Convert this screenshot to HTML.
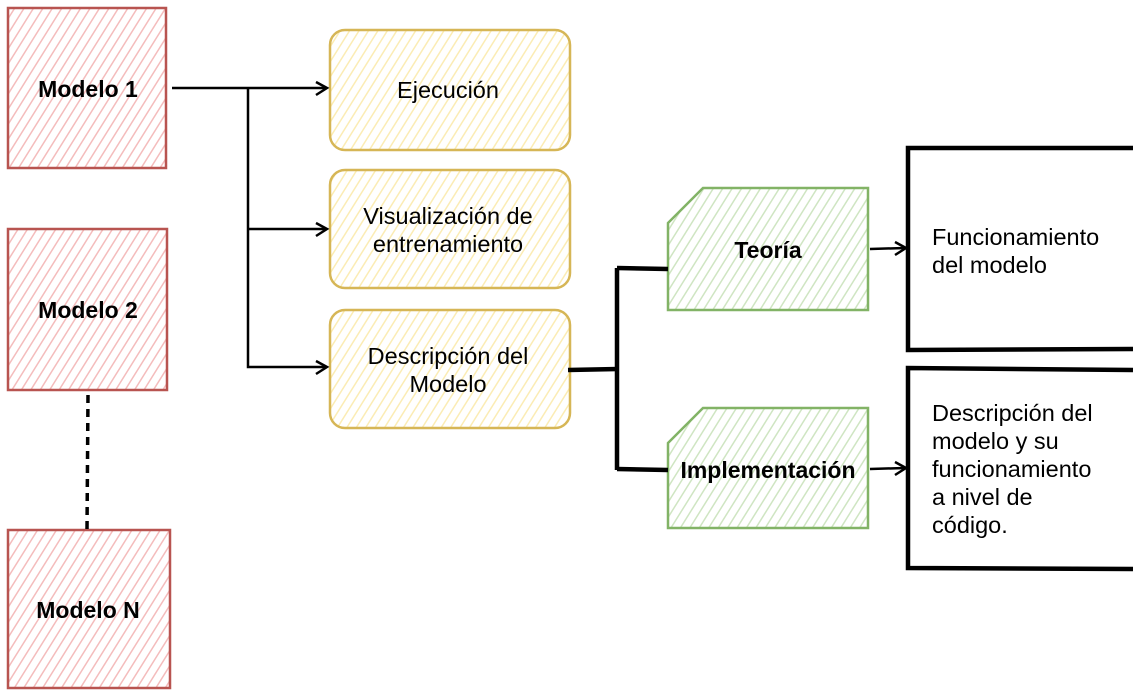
<!DOCTYPE html>
<html><head><meta charset="utf-8"><style>
html,body{margin:0;padding:0;background:#fff;}
svg{display:block;}
text{font-family:"Liberation Sans",Arial,sans-serif;font-size:23.5px;fill:#000;}
.b{font-weight:bold;font-size:23px;}
</style></head><body>
<svg width="1140" height="698" viewBox="0 0 1140 698" xmlns="http://www.w3.org/2000/svg">
<defs>
<pattern id="hr" width="8" height="8" patternUnits="userSpaceOnUse" patternTransform="rotate(32)">
<rect width="8" height="8" fill="#fff"/><line x1="0" y1="0" x2="0" y2="8" stroke="#f4bcbc" stroke-width="3"/></pattern>
<pattern id="hy" width="8" height="8" patternUnits="userSpaceOnUse" patternTransform="rotate(32)">
<rect width="8" height="8" fill="#fff"/><line x1="0" y1="0" x2="0" y2="8" stroke="#fbecb4" stroke-width="3"/></pattern>
<pattern id="hg" width="8" height="8" patternUnits="userSpaceOnUse" patternTransform="rotate(32)">
<rect width="8" height="8" fill="#fff"/><line x1="0" y1="0" x2="0" y2="8" stroke="#cfe5c2" stroke-width="3"/></pattern>
</defs>

<rect x="8" y="8" width="158" height="160" fill="url(#hr)" stroke="#b85450" stroke-width="2.5"/>
<rect x="8" y="229" width="159" height="161" fill="url(#hr)" stroke="#b85450" stroke-width="2.5"/>
<rect x="8" y="530" width="162" height="158" fill="url(#hr)" stroke="#b85450" stroke-width="2.5"/>
<text class="b" x="88" y="97" text-anchor="middle">Modelo 1</text>
<text class="b" x="88" y="318" text-anchor="middle">Modelo 2</text>
<text class="b" x="88" y="618" text-anchor="middle">Modelo N</text>
<line x1="88" y1="395" x2="87" y2="530" stroke="#000" stroke-width="3.5" stroke-dasharray="8,6"/>

<rect x="330" y="30" width="240" height="120" rx="15" fill="url(#hy)" stroke="#d6b656" stroke-width="2.5"/>
<rect x="330" y="170" width="240" height="118" rx="15" fill="url(#hy)" stroke="#d6b656" stroke-width="2.5"/>
<rect x="330" y="310" width="240" height="118" rx="15" fill="url(#hy)" stroke="#d6b656" stroke-width="2.5"/>
<text x="448" y="98" text-anchor="middle">Ejecución</text>
<text x="448" y="224" text-anchor="middle">Visualización de</text>
<text x="448" y="252" text-anchor="middle">entrenamiento</text>
<text x="448" y="364" text-anchor="middle">Descripción del</text>
<text x="448" y="392" text-anchor="middle">Modelo</text>

<g stroke="#000" fill="none" stroke-width="2.5">
<path d="M172 88 L325 88"/>
<path d="M248 88 L248 367 L325 367"/>
<path d="M248 229 L325 229"/>
<path d="M316 82 L327 88 L316 95"/>
<path d="M316 223 L327 229 L316 236"/>
<path d="M316 361 L327 367 L316 374"/>
</g>

<path d="M703 188 L868 188 L868 310 L668 310 L668 223 Z" fill="url(#hg)" stroke="#82b366" stroke-width="2.5"/>
<path d="M703 408 L868 408 L868 528 L668 528 L668 443 Z" fill="url(#hg)" stroke="#82b366" stroke-width="2.5"/>
<text class="b" x="768" y="258" text-anchor="middle">Teoría</text>
<text class="b" x="768" y="478" text-anchor="middle">Implementación</text>

<g stroke="#000" fill="none" stroke-width="4.5">
<path d="M568 370 L618 369"/>
<path d="M617 268 L617 470"/>
<path d="M617 268 L668 269"/>
<path d="M617 469 L668 470"/>
</g>
<g stroke="#000" fill="none" stroke-width="2.5">
<path d="M870 249 L905 248"/>
<path d="M895 242 L906 248 L895 255"/>
<path d="M870 469 L905 468"/>
<path d="M895 462 L906 468 L895 475"/>
</g>

<g stroke="#000" fill="none" stroke-width="4.5">
<path d="M1133 148 L908 148 L908 350 L1133 349"/>
<path d="M1133 370 L908 368 L908 568 L1133 569"/>
</g>
<text x="932" y="245">Funcionamiento</text>
<text x="932" y="273">del modelo</text>
<text x="932" y="421">Descripción del</text>
<text x="932" y="449">modelo y su</text>
<text x="932" y="477">funcionamiento</text>
<text x="932" y="505">a nivel de</text>
<text x="932" y="533">código.</text>
</svg>
</body></html>
